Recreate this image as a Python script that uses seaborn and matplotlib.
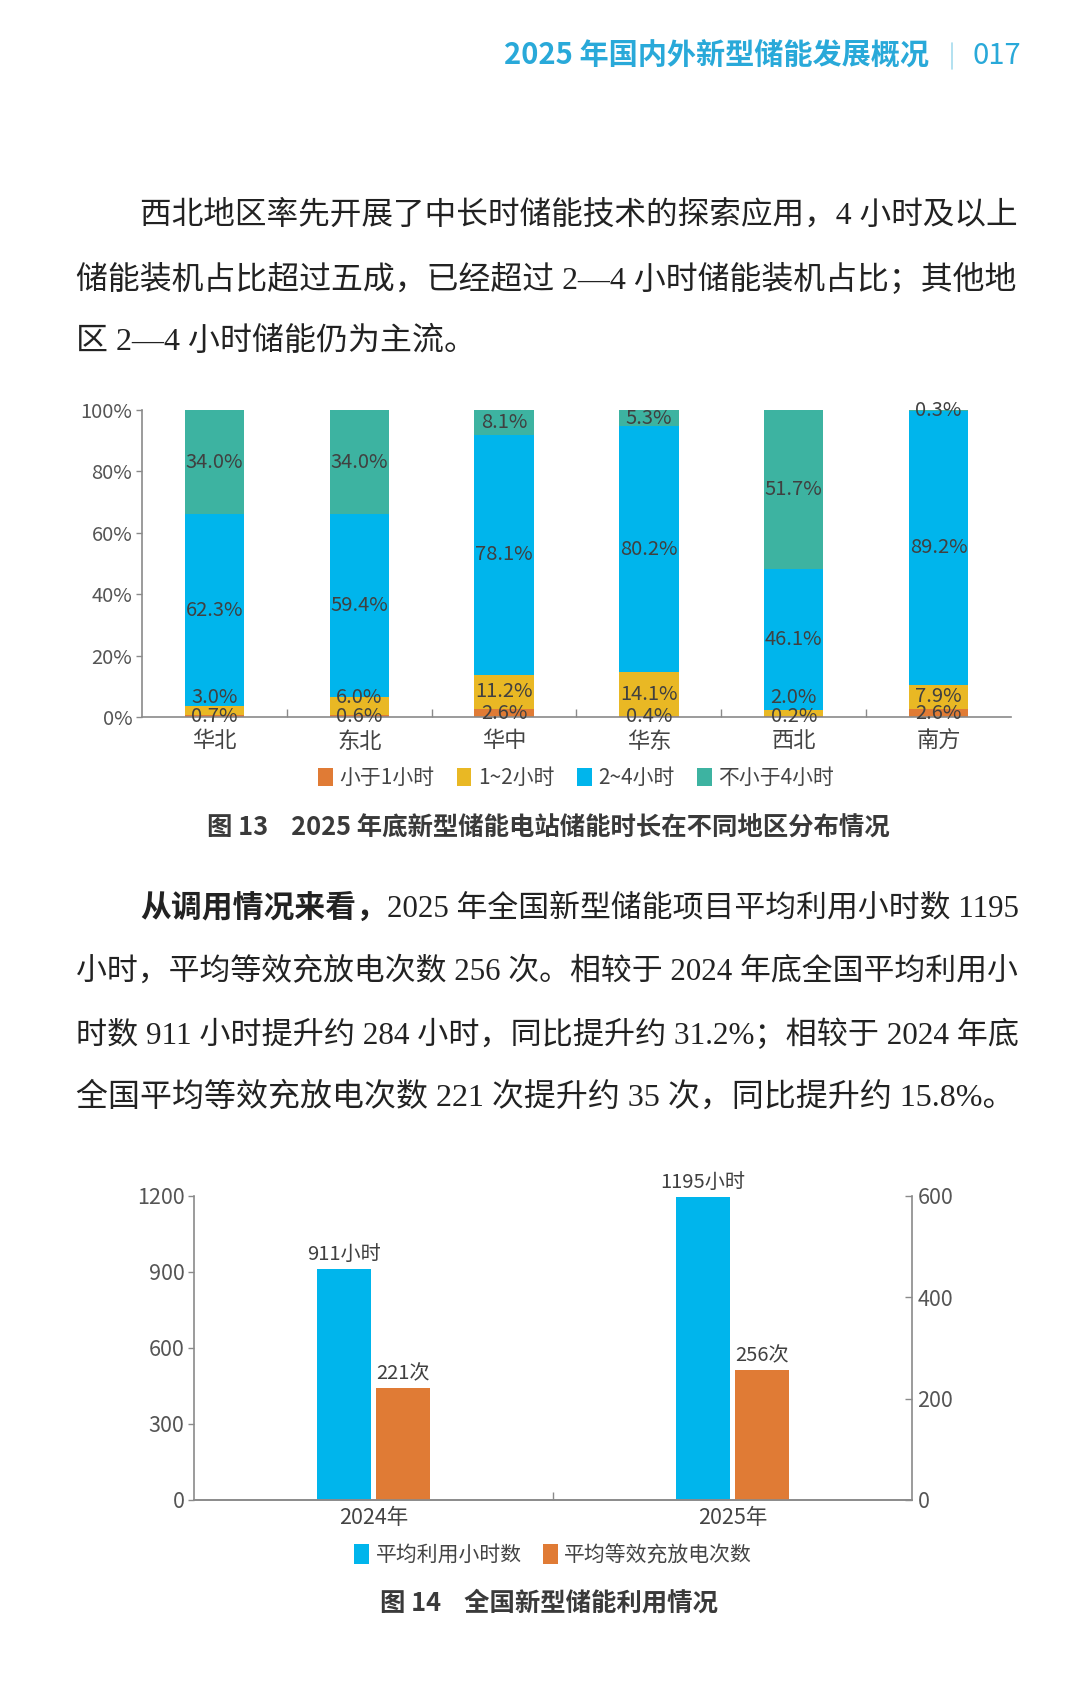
import numpy as np
import pandas as pd
import matplotlib
matplotlib.use('Agg')
import matplotlib.pyplot as plt
import seaborn as sns
from matplotlib.patches import Patch
from matplotlib.lines import Line2D
from matplotlib.ticker import MultipleLocator, FixedLocator

# --- data: chart 13 (share of storage duration by region, %) ---
regions = ['华北', '东北', '华中', '华东', '西北', '南方']
lt_1h = [0.7, 0.6, 2.6, 0.4, 0.2, 2.6]
h_1_2 = [3.0, 6.0, 11.2, 14.1, 2.0, 7.9]
h_2_4 = [62.3, 59.4, 78.1, 80.2, 46.1, 89.2]
ge_4h = [34.0, 34.0, 8.1, 5.3, 51.7, 0.3]
duration_names = ['小于1小时', '1~2小时', '2~4小时', '不小于4小时']
duration_colors = ['#E07B35', '#E9B824', '#00B5EC', '#3DB3A1']

# --- data: chart 14 (national utilisation) ---
years = ['2024年', '2025年']
avg_hours = [911, 1195]
avg_cycles = [221, 256]
util_names = ['平均利用小时数', '平均等效充放电次数']
util_colors = ['#00B5EC', '#E07B35']

sns.set_theme(style='white')
plt.rcParams['font.family'] = ['Noto Sans CJK SC', 'DejaVu Sans']

W, H = 1080, 1707
fig = plt.figure(figsize=(W / 100, H / 100), dpi=100)
renderer = fig.canvas.get_renderer()


def fx(x):
    return x / W


def fy(y):
    return 1 - y / H


def px_axes(left, top, right, bottom):
    return fig.add_axes([fx(left), fy(bottom), (right - left) / W, (bottom - top) / H])


body_font = ['Liberation Serif', 'Noto Sans CJK SC']
body_color = '#222222'
label_color = '#404040'
tick_color = '#555555'
axis_color = '#8a8a8a'
TEXT_RIGHT = 1019


def body_line(x, y, s, bold=None, size=23):
    # draw one line of body text, shrinking it if it runs past the right margin
    def draw(fs):
        parts = []
        cx = x
        for txt, wt in ([(bold, 'bold')] if bold else []) + [(s, 'normal')]:
            t = fig.text(fx(cx), fy(y), txt, ha='left', va='center', fontsize=fs,
                         fontweight=wt, family=body_font, color=body_color)
            cx = t.get_window_extent(renderer).x1
            parts.append(t)
        return parts, cx

    parts, end = draw(size)
    if end > TEXT_RIGHT:
        for t in parts:
            t.remove()
        draw(size * (TEXT_RIGHT - x) / (end - x))


# header
fig.text(fx(929), fy(56), '2025 年国内外新型储能发展概况', ha='right', va='center',
         fontsize=21, fontweight='bold', color='#29A9D9')
fig.add_artist(Line2D([fx(952), fx(952)], [fy(43), fy(69)], color='#a6dbee', lw=1.2))
fig.text(fx(973), fy(56), '017', ha='left', va='center', fontsize=21, color='#29A9D9')

# paragraph 1
body_line(140, 216, '西北地区率先开展了中长时储能技术的探索应用，4 小时及以上')
body_line(76, 279, '储能装机占比超过五成，已经超过 2—4 小时储能装机占比；其他地')
body_line(76, 342, '区 2—4 小时储能仍为主流。')

# ---------------- chart 13 ----------------
ax1 = px_axes(142, 410, 1011, 717)
df1 = pd.DataFrame({'region': regions, duration_names[0]: lt_1h, duration_names[1]: h_1_2,
                    duration_names[2]: h_2_4, duration_names[3]: ge_4h})
cum = df1[duration_names].cumsum(axis=1)

# draw cumulative totals from top series down so lower series overlay
for name, color in reversed(list(zip(duration_names, duration_colors))):
    sns.barplot(x=df1['region'], y=cum[name], color=color, saturation=1,
                width=0.41, linewidth=0, ax=ax1, order=regions)

for i, name in enumerate(duration_names):
    for j, r in enumerate(regions):
        v = df1.loc[j, name]
        yc = cum.loc[j, name] - v / 2
        if i == 0:
            yc = max(yc - 0.3, 0)
        if i == 1:
            yc = max(yc, 6.2)
        ax1.text(j, yc, f'{v:.1f}%', ha='center', va='center', fontsize=14.5,
                 color=label_color)

ax1.set_xlim(-0.5, len(regions) - 0.5)
ax1.set_ylim(0, 100)
yt = np.arange(0, 101, 20)
ax1.set_yticks(yt)
ax1.set_yticklabels([f'{t}%' for t in yt])
ax1.set_xlabel('')
ax1.set_ylabel('')
for s in ['top', 'right']:
    ax1.spines[s].set_visible(False)
for s in ['left', 'bottom']:
    ax1.spines[s].set_color(axis_color)
    ax1.spines[s].set_linewidth(1.2)
ax1.tick_params(axis='y', direction='out', length=4, width=1, color=axis_color,
                labelsize=14.5, labelcolor=tick_color, pad=3, left=True)
ax1.tick_params(axis='x', which='major', length=0, labelsize=16, labelcolor='#444444', pad=9)
ax1.xaxis.set_minor_locator(FixedLocator(np.arange(0.5, len(regions) - 1, 1)))
ax1.tick_params(axis='x', which='minor', direction='in', length=6, width=1,
                color=axis_color, bottom=True)

handles1 = [Patch(facecolor=c, edgecolor='none') for c in duration_colors]
fig.legend(handles1, duration_names, loc='center', bbox_to_anchor=(fx(576), fy(778)),
           ncol=4, frameon=False, fontsize=15, handlelength=0.7, handleheight=0.95,
           handletextpad=0.3, columnspacing=1.1, labelcolor='#444444')

fig.text(fx(548), fy(828), '图 13    2025 年底新型储能电站储能时长在不同地区分布情况',
         ha='center', va='center', fontsize=18.3, fontweight='bold', color='#3a3a3a')

# paragraph 2
body_line(140, 909, '2025 年全国新型储能项目平均利用小时数 1195', bold='从调用情况来看，')
body_line(76, 972, '小时，平均等效充放电次数 256 次。相较于 2024 年底全国平均利用小')
body_line(76, 1035, '时数 911 小时提升约 284 小时，同比提升约 31.2%；相较于 2024 年底')
body_line(76, 1097, '全国平均等效充放电次数 221 次提升约 35 次，同比提升约 15.8%。')

# ---------------- chart 14 ----------------
ax2 = px_axes(194, 1196, 912, 1500)
df2 = pd.DataFrame({
    'year': years * 2,
    'metric': [util_names[0]] * len(years) + [util_names[1]] * len(years),
    'value': avg_hours + avg_cycles,
})
pal2 = dict(zip(util_names, util_colors))
ax2r = ax2.twinx()
# both axes get the full dodged layout; each keeps only its own series visible
for a, keep in ((ax2, 0), (ax2r, 1)):
    sns.barplot(data=df2, x='year', y='value', hue='metric', hue_order=util_names,
                palette=pal2, saturation=1, width=0.33, gap=0.1, linewidth=0,
                order=years, legend=False, ax=a)
    for k, c in enumerate(a.containers):
        if k != keep:
            for p in c.patches:
                p.set_visible(False)

ax2.bar_label(ax2.containers[0], labels=[f'{v}小时' for v in avg_hours], padding=3,
              fontsize=14.5, color=label_color)
ax2r.bar_label(ax2r.containers[1], labels=[f'{v}次' for v in avg_cycles], padding=3,
               fontsize=14.5, color=label_color)

ax2.set_xlim(-0.5, len(years) - 0.5)
ax2.set_ylim(0, 1200)
ax2r.set_ylim(0, 600)
ax2.yaxis.set_major_locator(MultipleLocator(300))
ax2r.yaxis.set_major_locator(MultipleLocator(200))
for a in (ax2, ax2r):
    a.set_xlabel('')
    a.set_ylabel('')
    a.spines['top'].set_visible(False)
    for s in ['left', 'right', 'bottom']:
        a.spines[s].set_color(axis_color)
        a.spines[s].set_linewidth(1.2)
ax2.spines['right'].set_visible(False)
ax2r.spines['left'].set_visible(False)
ax2.tick_params(axis='y', direction='out', length=4, width=1, color=axis_color,
                labelsize=15.5, labelcolor=tick_color, pad=3, left=True)
ax2r.tick_params(axis='y', direction='in', length=5, width=1, color=axis_color,
                 labelsize=15.5, labelcolor=tick_color, pad=4, right=True)
ax2.tick_params(axis='x', which='major', length=0, labelsize=15.5, labelcolor='#444444', pad=5)
ax2.xaxis.set_minor_locator(FixedLocator([0.5]))
ax2.tick_params(axis='x', which='minor', direction='in', length=6, width=1,
                color=axis_color, bottom=True)

handles2 = [Patch(facecolor=c, edgecolor='none') for c in util_colors]
fig.legend(handles2, util_names, loc='center', bbox_to_anchor=(fx(553), fy(1555)),
           ncol=2, frameon=False, fontsize=15, handlelength=0.75, handleheight=1.1,
           handletextpad=0.3, columnspacing=1.0, labelcolor='#444444')

fig.text(fx(549), fy(1603), '图 14    全国新型储能利用情况', ha='center', va='center',
         fontsize=18.3, fontweight='bold', color='#3a3a3a')

fig.savefig('out.png', dpi=100, facecolor='white')
